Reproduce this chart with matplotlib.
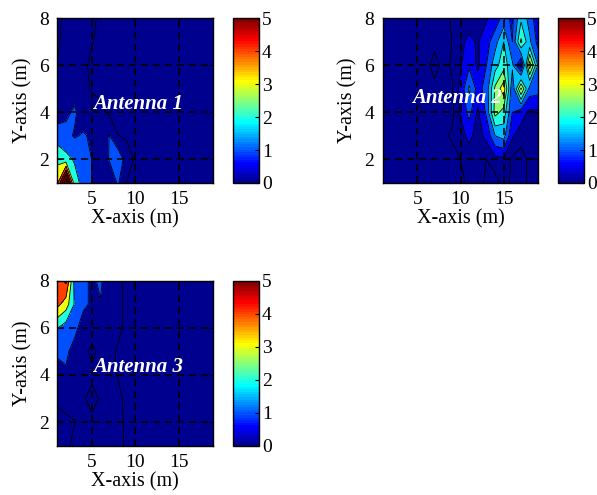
import numpy as np
import matplotlib
matplotlib.use("Agg")
from matplotlib import pyplot as plt
from matplotlib.colors import ListedColormap, Normalize
from matplotlib.colorbar import ColorbarBase

plt.rcParams["font.family"] = ["Liberation Serif", "DejaVu Serif"]
plt.rcParams["font.size"] = 14

x = [1, 2, 3, 4, 5, 6, 7, 8, 9, 10, 11, 12, 13, 14, 15, 16, 17, 18, 19]
y = [1, 2, 3, 4, 5, 6, 7, 8]

# rows are y = 8 (top) down to y = 1 (bottom)
ant1 = [
    [0.10, 0.30, 0.35, 0.35, 0.30, 0.10, 0.05, 0.05, 0.05, 0.05, 0.05, 0.05, 0.05, 0.05, 0.05, 0.05, 0.05, 0.05, 0.05],
    [0.12, 0.40, 0.40, 0.35, 0.22, 0.10, 0.05, 0.05, 0.05, 0.05, 0.05, 0.05, 0.05, 0.05, 0.05, 0.05, 0.05, 0.05, 0.05],
    [0.21, 0.45, 0.45, 0.30, 0.10, 0.08, 0.05, 0.05, 0.05, 0.05, 0.05, 0.05, 0.05, 0.05, 0.05, 0.05, 0.05, 0.05, 0.05],
    [0.35, 0.50, 0.60, 0.35, 0.15, 0.10, 0.05, 0.05, 0.05, 0.05, 0.05, 0.05, 0.05, 0.05, 0.05, 0.05, 0.05, 0.05, 0.05],
    [0.50, 0.80, 1.15, 0.50, 0.45, 0.30, 0.10, 0.05, 0.05, 0.05, 0.05, 0.05, 0.05, 0.05, 0.05, 0.05, 0.05, 0.05, 0.05],
    [1.50, 1.30, 0.90, 1.10, 0.85, 0.40, 1.02, 0.21, 0.10, 0.05, 0.05, 0.05, 0.05, 0.05, 0.05, 0.05, 0.05, 0.05, 0.05],
    [2.80, 2.30, 1.90, 1.40, 0.98, 0.40, 1.05, 1.60, 0.60, 0.10, 0.05, 0.05, 0.05, 0.05, 0.05, 0.05, 0.05, 0.05, 0.05],
    [3.60, 8.00, 2.35, 1.71, 0.97, 0.30, 0.40, 1.10, 0.18, 0.10, 0.05, 0.05, 0.05, 0.05, 0.05, 0.05, 0.05, 0.05, 0.05],
]

ant2 = [
    [0.05, 0.05, 0.05, 0.05, 0.05, 0.05, 0.05, 0.05, 0.25, 0.30, 0.30, 0.35, 0.45, 0.70, 1.20, 0.90, 1.90, 1.30, 0.60],
    [0.05, 0.05, 0.05, 0.05, 0.05, 0.05, 0.05, 0.05, 0.20, 0.40, 0.60, 0.45, 0.80, 1.30, 2.00, 1.00, 2.60, 1.60, 0.80],
    [0.05, 0.05, 0.05, 0.05, 0.05, 0.05, 0.40, 0.05, 0.25, 0.45, 0.90, 0.40, 1.00, 1.80, 2.30, 1.60, 0.30, 3.30, 1.40],
    [0.05, 0.05, 0.05, 0.05, 0.05, 0.05, 0.05, 0.05, 0.15, 0.60, 1.60, 0.80, 1.20, 2.60, 3.30, 1.10, 3.10, 1.30, 1.20],
    [0.05, 0.05, 0.05, 0.05, 0.05, 0.05, 0.05, 0.05, 0.10, 0.55, 1.20, 0.40, 1.10, 2.70, 2.30, 1.00, 0.70, 0.40, 0.40],
    [0.05, 0.05, 0.05, 0.05, 0.05, 0.05, 0.05, 0.10, 0.25, 0.35, 0.60, 0.35, 0.60, 1.50, 1.70, 0.55, 0.30, 0.20, 0.30],
    [0.05, 0.05, 0.05, 0.05, 0.05, 0.05, 0.05, 0.05, 0.05, 0.20, 0.30, 0.30, 0.20, 0.35, 0.40, 0.15, 0.10, 0.25, 0.30],
    [0.05, 0.05, 0.05, 0.05, 0.05, 0.05, 0.05, 0.05, 0.05, 0.10, 0.30, 0.30, 0.15, 0.10, 0.30, 0.15, 0.10, 0.25, 0.30],
]

ant3 = [
    [4.50, 5.20, 1.60, 1.20, 0.85, 1.15, 0.30, 0.30, 0.10, 0.05, 0.05, 0.05, 0.05, 0.05, 0.05, 0.05, 0.05, 0.05, 0.05],
    [4.30, 3.50, 1.90, 1.20, 0.85, 0.95, 0.30, 0.30, 0.10, 0.05, 0.05, 0.05, 0.05, 0.05, 0.05, 0.05, 0.05, 0.05, 0.05],
    [2.05, 1.50, 1.30, 0.50, 0.40, 0.35, 0.30, 0.30, 0.10, 0.05, 0.05, 0.05, 0.05, 0.05, 0.05, 0.05, 0.05, 0.05, 0.05],
    [1.20, 1.20, 0.60, 0.35, 0.10, 0.30, 0.30, 0.15, 0.10, 0.05, 0.05, 0.05, 0.05, 0.05, 0.05, 0.05, 0.05, 0.05, 0.05],
    [0.50, 0.85, 0.30, 0.30, 0.30, 0.30, 0.30, 0.18, 0.10, 0.05, 0.05, 0.05, 0.05, 0.05, 0.05, 0.05, 0.05, 0.05, 0.05],
    [0.25, 0.30, 0.30, 0.25, 0.05, 0.25, 0.30, 0.30, 0.10, 0.05, 0.05, 0.05, 0.05, 0.05, 0.05, 0.05, 0.05, 0.05, 0.05],
    [0.10, 0.15, 0.19, 0.30, 0.30, 0.30, 0.30, 0.35, 0.10, 0.05, 0.05, 0.05, 0.05, 0.05, 0.05, 0.05, 0.05, 0.05, 0.05],
    [0.10, 0.12, 0.30, 0.30, 0.30, 0.30, 0.30, 0.35, 0.12, 0.05, 0.05, 0.05, 0.05, 0.05, 0.05, 0.05, 0.05, 0.05, 0.05],
]

levels1 = [0, 0.2, 1, 2, 3, 4, 5, 6, 7, 9]
levels2 = [0, 0.2, 0.5, 1.0, 1.5, 2.0, 2.5, 3.0, 3.5]
levels3 = [0, 0.2, 1, 2, 3, 4, 5, 6]
labels = ["Antenna 1", "Antenna 2", "Antenna 3"]
label_pos = [(5.1, 4.35), (4.45, 4.6), (5.15, 4.33)]


def matlab_jet(m=64):
    n = int(np.ceil(m / 4))
    u = np.r_[np.arange(1, n + 1) / n, np.ones(n - 1), np.arange(n, 0, -1) / n]
    g = int(np.ceil(n / 2)) - (m % 4 == 1) + np.arange(1, len(u) + 1)
    r = g + n
    b = g - n
    J = np.zeros((m, 3))
    J[r[r <= m] - 1, 0] = u[r <= m]
    J[g[g <= m] - 1, 1] = u[g <= m]
    J[b[b >= 1] - 1, 2] = u[b >= 1]
    return J


J = matlab_jet(64)
cmap = ListedColormap(J)


def band_colors(levels):
    # matlab fills a band with the colour of its lower level
    first = levels[2]
    cols = []
    for lo in levels[:-1]:
        idx = 0 if lo < first else min(63, int(lo / 5.0 * 64))
        cols.append(J[idx])
    return cols


W, H = 597.0, 495.0
def box(l, t, r, b):
    return [l / W, 1 - b / H, (r - l) / W, (b - t) / H]

ax_boxes = [box(57.3, 18.3, 213.3, 182.7), box(382.7, 18.3, 538.3, 182.7), box(57.3, 280.7, 213.3, 445.7)]
cb_boxes = [box(232.7, 18.3, 259.3, 183.0), box(558.3, 18.3, 584.3, 183.0), box(232.7, 280.7, 259.3, 446.0)]

fig = plt.figure(figsize=(5.97, 4.95), dpi=100)
X, Y = np.meshgrid(x, y)

for data, levels, text, pos, abox, cbox in zip([ant1, ant2, ant3], [levels1, levels2, levels3],
                                              labels, label_pos, ax_boxes, cb_boxes):
    Z = np.array(data)[::-1]
    ax = fig.add_axes(abox)
    ax.contourf(X, Y, Z, levels=levels, colors=band_colors(levels), zorder=1)
    ax.contour(X, Y, Z, levels=levels[1:], colors="k", linewidths=0.6, zorder=2)
    ax.set_xlim(1, 19)
    ax.set_ylim(1, 8)
    ax.set_xticks([5, 10, 15])
    ax.set_yticks([2, 4, 6, 8])
    # dashed grid drawn on top of the filled contours
    for t in ax.get_xticks():
        ax.axvline(t, color="k", linestyle=(0, (4.5, 3)), linewidth=1.15, zorder=3)
    for t in ax.get_yticks():
        ax.axhline(t, color="k", linestyle=(0, (4.5, 3)), linewidth=1.15, zorder=3)
    ax.tick_params(direction="in", length=3, top=True, right=True, labelsize=14, pad=6)
    for s in ax.spines.values():
        s.set_linewidth(1.0)
        s.set_zorder(5)
    ax.set_xlabel("X-axis (m)", fontsize=14.5, labelpad=1)
    ax.set_ylabel("Y-axis (m)", fontsize=14.5, labelpad=5)
    ax.text(pos[0], pos[1], text, color="white", fontstyle="italic", fontweight="bold",
            fontsize=15, va="center", ha="left", zorder=6, family="Liberation Serif")

    cax = fig.add_axes(cbox)
    cb = ColorbarBase(cax, cmap=cmap, norm=Normalize(0, 5), ticks=[0, 1, 2, 3, 4, 5])
    cb.outline.set_linewidth(1.0)
    cax.tick_params(direction="in", length=3, labelsize=14, pad=2)

fig.savefig("out.png", dpi=100)
